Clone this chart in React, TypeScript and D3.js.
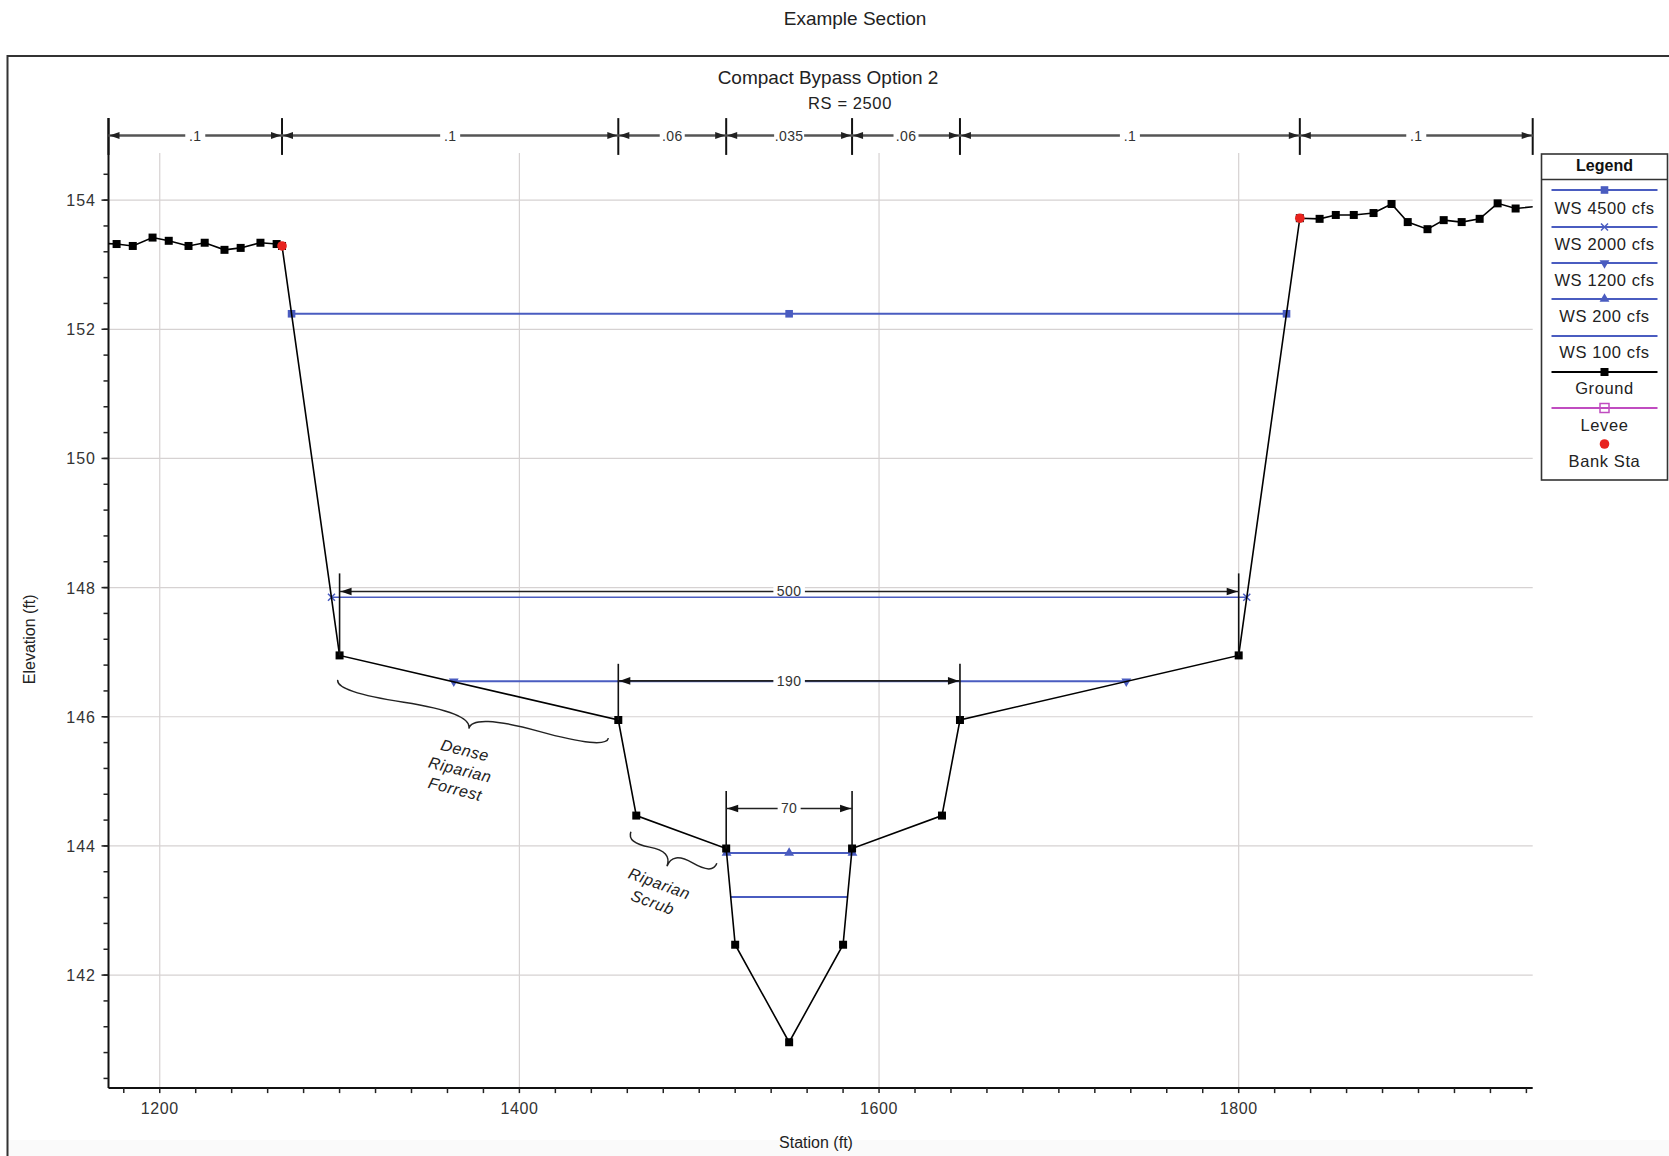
import React from "react";
import * as d3 from "d3";

// ---------------- data ----------------
const groundSta = [1168, 1176, 1185, 1196, 1205, 1216, 1225, 1236, 1245, 1256, 1265, 1268, 1300, 1455, 1465, 1515, 1520, 1550, 1580, 1585, 1635, 1645, 1800, 1834, 1845, 1854, 1864, 1875, 1885, 1894, 1905, 1914, 1924, 1934, 1944, 1954, 1972];
const groundElev = [153.33, 153.32, 153.29, 153.42, 153.37, 153.29, 153.34, 153.23, 153.26, 153.34, 153.32, 153.29, 146.95, 145.95, 144.47, 143.96, 142.47, 140.96, 142.47, 143.96, 144.47, 145.95, 146.95, 153.72, 153.71, 153.77, 153.77, 153.8, 153.94, 153.66, 153.55, 153.69, 153.66, 153.71, 153.95, 153.87, 153.92];

const bankSta = [1268, 1834];
const bankElev = [153.29, 153.72];

const ws4500Sta = [1273.3, 1550, 1826.6];
const ws4500Elev = [152.24, 152.24, 152.24];
const ws2000Sta = [1295.5, 1804.5];
const ws2000Elev = [147.85, 147.85];
const ws1200Sta = [1363.5, 1550, 1737.5];
const ws1200Elev = [146.55, 146.55, 146.55];
const ws200Sta = [1515.2, 1550, 1585.2];
const ws200Elev = [143.89, 143.89, 143.89];
const ws100Sta = [1517.6, 1582.6];
const ws100Elev = [143.21, 143.21];

// Manning's n breaks (top dimension line)
const nBreaks = [1171.5, 1268, 1455, 1515, 1585, 1645, 1834, 1963.5];
const nValues = [".1", ".1", ".06", ".035", ".06", ".1", ".1"];

// width dimensions inside the plot
const dimFrom = [1300, 1455, 1515];
const dimTo = [1800, 1645, 1585];
const dimElev = [147.94, 146.555, 144.58];
const dimTopElev = [148.22, 146.82, 144.85];
const dimBottomElev = [146.95, 145.95, 143.96];
const dimLabels = ["500", "190", "70"];

// braces / vegetation notes
const braceStartSta = [1299, 1462];
const braceStartElev = [146.57, 144.22];
const braceEndSta = [1449.5, 1509.8];
const braceEndElev = [145.67, 143.73];
const noteSta = [1367, 1476];
const noteElev = [145.18, 143.27];
const noteLines = [["Dense", "Riparian", "Forrest"], ["Riparian", "Scrub"]];

const xMajorTicks = [1200, 1400, 1600, 1800];
const yMajorTicks = [142, 144, 146, 148, 150, 152, 154];

const legendLabels = ["WS 4500 cfs", "WS 2000 cfs", "WS 1200 cfs", "WS 200 cfs", "WS 100 cfs", "Ground", "Levee", "Bank Sta"];

// ---------------- style ----------------
const FONT = "'Liberation Sans', Arial, sans-serif";
const BLUE = "#4a5cc0";
const GRID = "#d6d2d2";

const W = 1669;
const H = 1156;

const x = d3.scaleLinear().domain([1171.5, 1963.5]).range([108.5, 1532.7]);
const y = d3.scaleLinear().domain([140.25, 155.27]).range([1088.1, 118.1]);

function bracePath(x1: number, y1: number, x2: number, y2: number, w: number, q: number) {
  let dx = x1 - x2;
  let dy = y1 - y2;
  const len = Math.sqrt(dx * dx + dy * dy);
  dx /= len;
  dy /= len;
  const qx1 = x1 + q * w * dy;
  const qy1 = y1 - q * w * dx;
  const qx2 = x1 - 0.25 * len * dx + (1 - q) * w * dy;
  const qy2 = y1 - 0.25 * len * dy - (1 - q) * w * dx;
  const tx1 = x1 - 0.5 * len * dx + w * dy;
  const ty1 = y1 - 0.5 * len * dy - w * dx;
  const qx3 = x2 + q * w * dy;
  const qy3 = y2 - q * w * dx;
  const qx4 = x1 - 0.75 * len * dx + (1 - q) * w * dy;
  const qy4 = y1 - 0.75 * len * dy - (1 - q) * w * dx;
  return `M ${x1} ${y1} Q ${qx1} ${qy1} ${qx2} ${qy2} T ${tx1} ${ty1} M ${x2} ${y2} Q ${qx3} ${qy3} ${qx4} ${qy4} T ${tx1} ${ty1}`;
}

function Arrow({ xTip, yTip, dir, len = 11, half = 3.8, color }: { xTip: number; yTip: number; dir: number; len?: number; half?: number; color: string }) {
  const xb = xTip - dir * len;
  return <path d={`M${xTip},${yTip} L${xb},${yTip - half} L${xb},${yTip + half} Z`} fill={color} />;
}

function Marker({ kind, cx, cy }: { kind: string; cx: number; cy: number }) {
  if (kind === "square") return <rect x={cx - 3.8} y={cy - 3.8} width={7.6} height={7.6} fill={BLUE} />;
  if (kind === "x")
    return (
      <path d={`M${cx - 3.5},${cy - 3.5}L${cx + 3.5},${cy + 3.5}M${cx - 3.5},${cy + 3.5}L${cx + 3.5},${cy - 3.5}`} stroke={BLUE} strokeWidth={1.5} />
    );
  if (kind === "tdown")
    return <path d={d3.symbol().type(d3.symbolTriangle).size(42)() as string} transform={`translate(${cx},${cy}) rotate(180)`} fill={BLUE} />;
  if (kind === "tup")
    return <path d={d3.symbol().type(d3.symbolTriangle).size(42)() as string} transform={`translate(${cx},${cy})`} fill={BLUE} />;
  if (kind === "ground") return <rect x={cx - 4} y={cy - 4} width={8} height={8} fill="#000" />;
  if (kind === "levee") return <rect x={cx - 4.5} y={cy - 4.5} width={9} height={9} fill="none" stroke="#c04cc0" strokeWidth={1.5} />;
  if (kind === "bank") return <circle cx={cx} cy={cy} r={4.8} fill="#e8231e" />;
  return null;
}

export default function App() {
  const xMinor = d3.range(1180, 1961, 20);
  const yMinor = d3.range(140.4, 154.41, 0.4);
  const plotL = x.range()[0];
  const plotR = x.range()[1];
  const plotB = y.range()[0];
  const plotT = y.range()[1];
  const gridTop = 153;

  const lineGen = d3
    .line<[number, number]>()
    .x((d) => x(d[0]))
    .y((d) => y(d[1]));

  const wsSeries = [
    { sta: ws4500Sta, elev: ws4500Elev, marker: "square", width: 2 },
    { sta: ws2000Sta, elev: ws2000Elev, marker: "x", width: 1.5 },
    { sta: ws1200Sta, elev: ws1200Elev, marker: "tdown", width: 2 },
    { sta: ws200Sta, elev: ws200Elev, marker: "tup", width: 2 },
    { sta: ws100Sta, elev: ws100Elev, marker: "", width: 2 },
  ];

  const groundPts = groundSta.map((s, i) => [s, groundElev[i]] as [number, number]);

  const topLineY = y(155.0);
  const topVTop = y(155.27);
  const topVBot = y(154.7);
  const TOPC = "#555";

  const lgX = 1541.5;
  const lgY = 154;
  const lgW = 126;
  const lgH = 326;
  const lgLineY = [190, 227, 263, 299, 336, 372, 408, 444];
  const lgTextY = [214, 250, 286, 322, 358, 394, 431, 467];
  const lgKinds = ["square", "x", "tdown", "tup", "", "ground", "levee", "bank"];
  const lgCx = 1604.5;

  return (
    <svg width={W} height={H} style={{ display: "block", position: "absolute", left: 0, top: 0, background: "#fff" }} fontFamily={FONT}>
      <defs>
        <clipPath id="plotClip">
          <rect x={plotL} y={plotT} width={plotR - plotL} height={plotB - plotT} />
        </clipPath>
      </defs>
      <rect x={0} y={0} width={W} height={H} fill="#fff" />
      <rect x={8} y={1140} width={W} height={H - 1140} fill="#fafafa" />

      <text x={855} y={25} textAnchor="middle" fontSize={19} fill="#222">
        Example Section
      </text>
      <path d={`M7.5,${H + 5} L7.5,56 L${W + 5},56`} fill="none" stroke="#333" strokeWidth={2} />
      <text x={828} y={84} textAnchor="middle" fontSize={19} fill="#222">
        Compact Bypass Option 2
      </text>
      <text x={850} y={109} textAnchor="middle" fontSize={16.5} fill="#222" letterSpacing={0.6}>
        RS = 2500
      </text>

      {xMajorTicks.map((t) => (
        <line key={"gx" + t} x1={x(t)} x2={x(t)} y1={gridTop} y2={plotB} stroke={GRID} strokeWidth={1.2} />
      ))}
      {yMajorTicks.map((t) => (
        <line key={"gy" + t} x1={plotL} x2={plotR} y1={y(t)} y2={y(t)} stroke={GRID} strokeWidth={1.2} />
      ))}

      <line x1={plotL} x2={plotL} y1={plotT} y2={plotB} stroke="#111" strokeWidth={2} />
      <line x1={plotL} x2={plotR} y1={plotB} y2={plotB} stroke="#111" strokeWidth={2} />
      {xMinor.map((t) => (
        <line key={"xt" + t} x1={x(t)} x2={x(t)} y1={plotB} y2={plotB + 5} stroke="#222" strokeWidth={1.5} />
      ))}
      {yMinor.map((t) => (
        <line key={"yt" + t.toFixed(1)} x1={plotL - 5} x2={plotL} y1={y(t)} y2={y(t)} stroke="#222" strokeWidth={1.5} />
      ))}
      {yMajorTicks.map((t) => (
        <line key={"ytM" + t} x1={plotL - 7} x2={plotL} y1={y(t)} y2={y(t)} stroke="#222" strokeWidth={1.5} />
      ))}
      {xMajorTicks.map((t) => (
        <text key={"xl" + t} x={x(t)} y={plotB + 26} textAnchor="middle" fontSize={16} fill="#333" letterSpacing={0.6}>
          {t}
        </text>
      ))}
      {yMajorTicks.map((t) => (
        <text key={"yl" + t} x={96} y={y(t) + 6} textAnchor="end" fontSize={16} fill="#333" letterSpacing={1}>
          {t}
        </text>
      ))}
      <text x={816} y={1148} textAnchor="middle" fontSize={16} fill="#222">
        Station (ft)
      </text>
      <text transform={`translate(35,${y(147.2)}) rotate(-90)`} textAnchor="middle" fontSize={16} fill="#222">
        Elevation (ft)
      </text>

      <g clipPath="url(#plotClip)">
        {wsSeries.map((s, i) => (
          <path
            key={"ws" + i}
            d={lineGen(s.sta.map((v, j) => [v, s.elev[j]] as [number, number])) as string}
            fill="none"
            stroke={BLUE}
            strokeWidth={s.width}
          />
        ))}
        {wsSeries.map((s, i) =>
          s.marker ? s.sta.map((v, j) => <Marker key={"wsm" + i + "-" + j} kind={s.marker} cx={x(v)} cy={y(s.elev[j])} />) : null
        )}

        <path d={lineGen(groundPts) as string} fill="none" stroke="#000" strokeWidth={1.6} />
        {groundPts.map((p, i) => (
          <Marker key={"g" + i} kind="ground" cx={x(p[0])} cy={y(p[1])} />
        ))}
        {bankSta.map((s, i) => (
          <Marker key={"b" + i} kind="bank" cx={x(s)} cy={y(bankElev[i])} />
        ))}
      </g>

      {nBreaks.map((b, i) => (
        <line key={"nb" + i} x1={x(b)} x2={x(b)} y1={topVTop} y2={topVBot} stroke="#111" strokeWidth={2} />
      ))}
      {nValues.map((v, i) => {
        const a = x(nBreaks[i]);
        const b = x(nBreaks[i + 1]);
        const mid = (a + b) / 2;
        const gap = v.length * 5 + 10;
        return (
          <g key={"nv" + i}>
            <line x1={a} x2={mid - gap / 2} y1={topLineY} y2={topLineY} stroke={TOPC} strokeWidth={2.5} />
            <line x1={mid + gap / 2} x2={b} y1={topLineY} y2={topLineY} stroke={TOPC} strokeWidth={2.5} />
            <Arrow xTip={a + 1} yTip={topLineY} dir={-1} color="#222" len={10} half={3.5} />
            <Arrow xTip={b - 1} yTip={topLineY} dir={1} color="#222" len={10} half={3.5} />
            <text x={mid} y={topLineY + 5} textAnchor="middle" fontSize={14} fill="#333" letterSpacing={0.4}>
              {v}
            </text>
          </g>
        );
      })}

      {dimLabels.map((lab, i) => {
        const a = x(dimFrom[i]);
        const b = x(dimTo[i]);
        const yl = y(dimElev[i]);
        const mid = (a + b) / 2;
        const tw = lab.length * 8.5 + 6;
        return (
          <g key={"dim" + i}>
            <line x1={a} x2={a} y1={y(dimTopElev[i])} y2={y(dimBottomElev[i])} stroke="#111" strokeWidth={1.6} />
            <line x1={b} x2={b} y1={y(dimTopElev[i])} y2={y(dimBottomElev[i])} stroke="#111" strokeWidth={1.6} />
            <line x1={a} x2={b} y1={yl} y2={yl} stroke="#222" strokeWidth={1.6} />
            <Arrow xTip={a + 1} yTip={yl} dir={-1} color="#111" />
            <Arrow xTip={b - 1} yTip={yl} dir={1} color="#111" />
            <rect x={mid - tw / 2} y={yl - 6} width={tw} height={10} fill="#fff" />
            <text x={mid} y={yl + 5} textAnchor="middle" fontSize={14} fill="#333" letterSpacing={0.4}>
              {lab}
            </text>
          </g>
        );
      })}

      {braceStartSta.map((s, i) => (
        <path
          key={"br" + i}
          d={bracePath(x(s), y(braceStartElev[i]), x(braceEndSta[i]), y(braceEndElev[i]), 20, 0.6)}
          fill="none"
          stroke="#222"
          strokeWidth={1.5}
        />
      ))}
      {noteLines.map((lines, i) => {
        const cx = x(noteSta[i]);
        const cy = y(noteElev[i]);
        const rot = i === 0 ? 14 : 20;
        const off = i === 0 ? 1 : 0.5;
        return (
          <g key={"note" + i} transform={`translate(${cx},${cy}) rotate(${rot})`}>
            {lines.map((l, j) => (
              <text key={j} x={0} y={(j - off) * 20 + 5.5} textAnchor="middle" fontSize={16} fontStyle="italic" fill="#222" letterSpacing={0.6}>
                {l}
              </text>
            ))}
          </g>
        );
      })}

      <rect x={lgX} y={lgY} width={lgW} height={lgH} fill="#fff" stroke="#333" strokeWidth={1.6} />
      <line x1={lgX} x2={lgX + lgW} y1={179.5} y2={179.5} stroke="#333" strokeWidth={1.6} />
      <text x={lgCx} y={171} textAnchor="middle" fontSize={16} fontWeight="bold" fill="#111">
        Legend
      </text>
      {legendLabels.map((lab, i) => {
        const kind = lgKinds[i];
        const ly = lgLineY[i];
        const stroke = i < 5 ? BLUE : i === 5 ? "#000" : "#c04cc0";
        return (
          <g key={"lg" + i}>
            {kind !== "bank" && <line x1={1551.5} x2={1657.5} y1={ly} y2={ly} stroke={stroke} strokeWidth={2} />}
            {kind && <Marker kind={kind} cx={lgCx} cy={ly} />}
            <text x={lgCx} y={lgTextY[i]} textAnchor="middle" fontSize={16.5} fill="#222" letterSpacing={0.6}>
              {lab}
            </text>
          </g>
        );
      })}
    </svg>
  );
}
